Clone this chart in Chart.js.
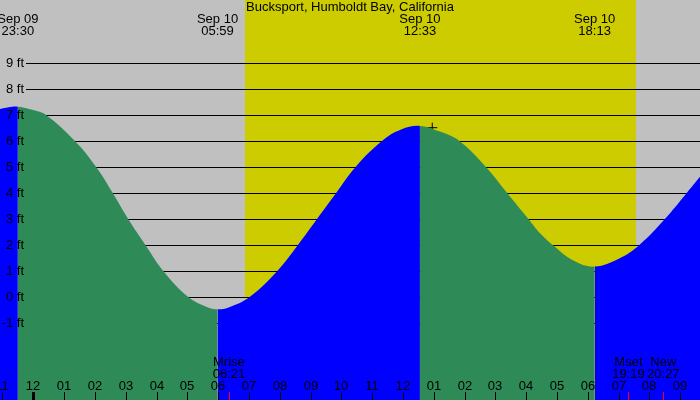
<!DOCTYPE html>
<html>
<head>
<meta charset="utf-8">
<script src="https://cdn.jsdelivr.net/npm/chart.js@4.4.1/dist/chart.umd.min.js"></script>
<style>
  html, body { margin: 0; padding: 0; background: #c0c0c0; }
  #wrap { width: 700px; height: 400px; }
</style>
</head>
<body>
<div id="wrap"><canvas id="tideChart" width="700" height="400"></canvas></div>
<script>
// Hours are counted from midnight Sep 10 (negative = Sep 09)
const title = 'Bucksport, Humboldt Bay, California';

// Tide curve: hour and height (ft)
const tideHour = [-1.08, -0.8, -0.5, 0, 0.41, 1.35, 2.04, 2.58, 3.08, 3.64, 4.22, 5.03, 5.63, 5.98,
                  6.32, 7.02, 7.92, 8.59, 9.21, 9.83, 10.46, 11.32, 11.94, 12.55,
                  13.2, 13.83, 14.69, 15.38, 16.07, 16.45, 16.86, 17.53, 18.22,
                  19.05, 19.67, 20.5, 21.21, 21.64];
const tideFt = [7.23, 7.3, 7.32, 7.19, 7, 6, 5, 4, 3, 2, 1, 0, -0.38, -0.47,
                -0.41, 0, 1, 2, 3, 4, 5, 6, 6.44, 6.58,
                6.36, 6, 5, 4, 3, 2.45, 2, 1.4, 1.17,
                1.5, 2, 3, 4, 4.62];

// High / low tide labels along the top
const tideHours = [-0.5, 5.98, 12.55, 18.22];
const tideDates = ['Sep 09', 'Sep 10', 'Sep 10', 'Sep 10'];
const tideTimes = ['23:30', '05:59', '12:33', '18:13'];

// Daylight
const sunrise = 6.87;
const sunset = 19.56;

// Moon events along the bottom
const moonHours = [6.35, 19.317, 20.45];
const moonNames = ['Mrise', 'Mset', 'New'];
const moonTimes = ['06:21', '19:19', '20:27'];

// Axis ticks
const yTicks = [-1, 0, 1, 2, 3, 4, 5, 6, 7, 8, 9];
const hourTicks = [-1, 0, 1, 2, 3, 4, 5, 6, 7, 8, 9, 10, 11, 12, 13, 14, 15, 16, 17, 18, 19, 20, 21];
const hourLabels = ['11', '12', '01', '02', '03', '04', '05', '06', '07', '08', '09', '10', '11',
                    '12', '01', '02', '03', '04', '05', '06', '07', '08', '09'];

// Current-position marker
const markerHour = [12.95];
const markerFt = [6.51];

const GREEN = '#2e8b57';
const BLUE = '#0000ff';
const FONT = '13px "Liberation Sans", Arial, sans-serif';

// Background bands and horizontal ft lines (under the tide fill)
const backdrop = {
    id: 'backdrop',
    beforeDatasetsDraw(chart) {
        const ctx = chart.ctx;
        const x = chart.scales.x, y = chart.scales.y;
        const a = chart.chartArea;
        ctx.save();
        ctx.fillStyle = '#c0c0c0';
        ctx.fillRect(a.left, a.top, a.right - a.left, a.bottom - a.top);
        const x1 = x.getPixelForValue(sunrise), x2 = x.getPixelForValue(sunset);
        ctx.fillStyle = '#cccc00';
        ctx.fillRect(x1, a.top, x2 - x1, a.bottom - a.top);
        ctx.strokeStyle = '#000';
        ctx.lineWidth = 1;
        yTicks.forEach(v => {
            const py = Math.round(y.getPixelForValue(v)) + 0.5;
            ctx.beginPath();
            ctx.moveTo(26, py);
            ctx.lineTo(a.right, py);
            ctx.stroke();
        });
        ctx.restore();
    }
};

// Text and tick marks drawn on top
const labels = {
    id: 'labels',
    afterDatasetsDraw(chart) {
        const ctx = chart.ctx;
        const x = chart.scales.x, y = chart.scales.y;
        const a = chart.chartArea;
        ctx.save();
        ctx.font = FONT;
        ctx.fillStyle = '#000';
        ctx.textBaseline = 'middle';

        ctx.textAlign = 'center';
        ctx.fillText(title, chart.width / 2, 7);

        tideHours.forEach((h, i) => {
            const px = x.getPixelForValue(h);
            ctx.fillText(tideDates[i], px, 19);
            ctx.fillText(tideTimes[i], px, 31);
        });

        ctx.textAlign = 'right';
        yTicks.forEach(v => {
            ctx.fillText(v + ' ft', 24, y.getPixelForValue(v));
        });

        ctx.textAlign = 'center';
        hourTicks.forEach((h, i) => {
            const px = Math.round(x.getPixelForValue(h));
            ctx.fillStyle = '#000';
            ctx.fillText(hourLabels[i], px, 386);
            if (h === 0) {
                ctx.fillRect(px - 1, 392, 3, a.bottom - 392);
            } else {
                ctx.fillRect(px, 392, 1, a.bottom - 392);
            }
        });

        moonHours.forEach((h, i) => {
            const px = x.getPixelForValue(h);
            ctx.fillStyle = '#000';
            ctx.fillText(moonNames[i], px, 362);
            ctx.fillText(moonTimes[i], px, 374);
            ctx.fillStyle = '#ff0000';
            ctx.fillRect(Math.round(px), 392, 1, a.bottom - 392);
        });
        ctx.restore();
    }
};

// falling water green, rising water blue
const slopeColor = c => (c.p1.parsed.y < c.p0.parsed.y ? GREEN : BLUE);

new Chart(document.getElementById('tideChart'), {
    type: 'line',
    data: {
        datasets: [
            {
                data: tideHour.map((h, i) => ({ x: h, y: tideFt[i] })),
                backgroundColor: BLUE,
                borderColor: 'rgba(0,0,0,0)',
                borderWidth: 0,
                pointRadius: 0,
                fill: 'start',
                tension: 0.4,
                segment: {
                    backgroundColor: slopeColor
                }
            },
            {
                type: 'scatter',
                data: markerHour.map((h, i) => ({ x: h, y: markerFt[i] })),
                pointStyle: 'cross',
                pointRadius: 5,
                borderColor: '#000',
                borderWidth: 1,
                showLine: false
            }
        ]
    },
    options: {
        responsive: false,
        devicePixelRatio: 1,
        animation: false,
        layout: { padding: 0, autoPadding: false },
        plugins: {
            legend: { display: false },
            tooltip: { enabled: false },
            title: { display: false }
        },
        scales: {
            x: { type: 'linear', min: -1.08, max: 21.64, display: false },
            y: { type: 'linear', min: -3.96, max: 11.42, display: false }
        }
    },
    plugins: [backdrop, labels]
});
</script>
</body>
</html>
